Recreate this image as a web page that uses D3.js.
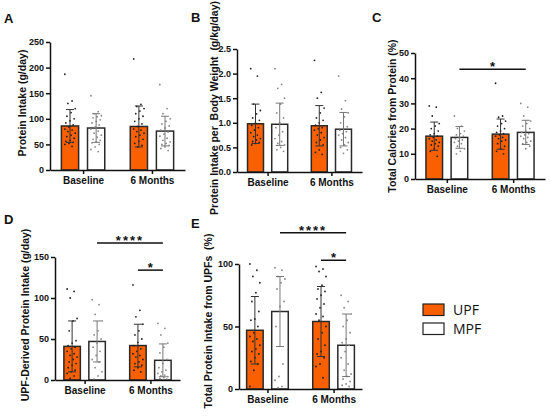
<!DOCTYPE html>
<html>
<head>
<meta charset="utf-8">
<script src="https://cdn.jsdelivr.net/npm/d3@7"></script>
<style>
  body { margin: 0; background: #fff; }
  svg { display: block; }
</style>
</head>
<body>
<div id="chart"></div>
<script>
const groups = ["Baseline", "6 Months"];
const series = ["UPF", "MPF"];

// A: Protein intake (g/day)
const aUpfMean = [86, 85];
const aUpfSd = [32, 40];
const aMpfMean = [82, 76];
const aMpfSd = [28, 29];
const aUpfDots = [
  [187, 135, 130, 120, 112, 105, 100, 96, 92, 88, 84, 80, 78, 75, 72, 68, 65, 62, 58, 56, 54, 52, 50, 46],
  [217, 128, 124, 120, 115, 110, 105, 100, 95, 90, 85, 80, 78, 75, 72, 68, 65, 60, 56, 52, 48, 45]
];
const aMpfDots = [
  [145, 114, 110, 106, 104, 102, 98, 95, 92, 88, 84, 80, 76, 72, 68, 64, 60, 58, 55, 53, 50, 45, 40, 36],
  [167, 120, 110, 100, 95, 90, 86, 82, 78, 74, 70, 66, 62, 58, 55, 52, 50, 48, 45, 42, 38]
];

// B: Protein intake per body weight (g/kg/day)
const bUpfMean = [0.98, 0.94];
const bUpfSd = [0.40, 0.41];
const bMpfMean = [0.97, 0.87];
const bMpfSd = [0.43, 0.34];
const bUpfDots = [
  [2.1, 1.95, 1.38, 1.25, 1.18, 1.1, 1.05, 1.0, 0.95, 0.9, 0.85, 0.8, 0.75, 0.72, 0.68, 0.65, 0.62, 0.6, 0.58, 0.55],
  [2.27, 1.62, 1.5, 1.3, 1.2, 1.1, 1.05, 1.0, 0.95, 0.9, 0.88, 0.85, 0.8, 0.75, 0.7, 0.65, 0.6, 0.55, 0.45, 0.4, 0.36]
];
const bMpfDots = [
  [2.1, 1.78, 1.7, 1.5, 1.38, 1.2, 1.1, 1.0, 0.9, 0.82, 0.75, 0.68, 0.62, 0.58, 0.55, 0.5, 0.45, 0.42],
  [1.95, 1.45, 1.28, 1.2, 1.12, 1.0, 0.92, 0.88, 0.85, 0.82, 0.78, 0.75, 0.7, 0.65, 0.6, 0.55, 0.5, 0.45, 0.38]
];

// C: Total calories from protein (%)
const cUpfMean = [17.0, 17.8];
const cUpfSd = [5.6, 6.0];
const cMpfMean = [16.5, 18.5];
const cMpfSd = [4.3, 4.8];
const cUpfDots = [
  [29, 28.5, 25, 22, 21, 20, 19, 18, 17.5, 17, 16.5, 16, 15.5, 15, 14.5, 14, 13.5, 13, 12, 11, 9],
  [38, 25, 24.5, 23, 22, 21, 20, 19, 18.5, 18, 17.5, 17, 16.5, 16, 15.5, 15, 14, 13, 12, 11, 10]
];
const cMpfDots = [
  [25, 21, 20, 19, 18, 17.5, 17, 16.5, 16, 15.5, 15, 14.5, 14, 13, 12, 11, 10],
  [30, 28.5, 25, 23, 22, 21, 20, 19, 18.5, 18, 17.5, 17, 16.5, 16, 15, 14.5, 14, 13, 12]
];

// D: UPF-derived protein intake (g/day)
const dUpfMean = [41, 42];
const dUpfSd = [31, 26];
const dMpfMean = [47, 24];
const dMpfSd = [25, 20];
const dUpfDots = [
  [111, 108, 100, 75, 72, 60, 48, 45, 42, 40, 38, 35, 32, 30, 28, 25, 22, 20, 18, 15, 12, 10, 8, 5, 2],
  [116, 85, 77, 68, 60, 55, 50, 46, 42, 38, 35, 32, 30, 28, 25, 22, 20, 18, 15, 12, 10]
];
const dMpfDots = [
  [98, 92, 80, 72, 60, 55, 50, 45, 40, 35, 30, 25, 22, 15, 10, 5, 1],
  [69, 63, 55, 45, 40, 33, 25, 20, 15, 12, 10, 8, 6, 5, 4, 3, 2, 1, 0.5]
];

// E: Total protein intake from UPFs (%)
const eUpfMean = [47, 54];
const eUpfSd = [27, 28];
const eMpfMean = [62, 35];
const eMpfSd = [28, 25];
const eUpfDots = [
  [100, 95, 90, 85, 77, 70, 62, 56, 55, 50, 45, 42, 40, 38, 35, 32, 30, 28, 25, 22, 20, 15, 2],
  [98, 96, 94, 90, 83, 80, 78, 75, 72, 68, 65, 60, 58, 55, 50, 45, 40, 35, 30, 28, 25, 20, 18, 9]
];
const eMpfDots = [
  [97, 95, 90, 88, 85, 80, 70, 66, 50, 20, 10, 7, 2, 1],
  [75, 70, 65, 60, 55, 50, 45, 40, 37, 35, 30, 25, 20, 15, 12, 10, 8, 6, 4, 3, 2]
];

const cSig = [{ from: ["Baseline", "MPF"], to: ["6 Months", "MPF"], value: 43.6, label: "*" }];
const dSig = [
  { from: ["Baseline", "MPF"], to: ["6 Months", "MPF"], value: 167, label: "****" },
  { from: ["6 Months", "UPF"], to: ["6 Months", "MPF"], value: 134, label: "*" }
];
const eSig = [
  { from: ["Baseline", "MPF"], to: ["6 Months", "MPF"], value: 125, label: "****" },
  { from: ["6 Months", "UPF"], to: ["6 Months", "MPF"], value: 103, label: "*" }
];

const orange = "#fa5f00";
const font = "'Liberation Sans', Arial, sans-serif";

const width = 550;
const height = 417;

const svg = d3
  .select("#chart")
  .append("svg")
  .attr("width", width)
  .attr("height", height)
  .style("font-family", font);

function rows(upfMean, upfSd, upfDots, mpfMean, mpfSd, mpfDots) {
  const out = [];
  groups.forEach((g, i) => {
    out.push({ group: g, series: "UPF", mean: upfMean[i], sd: upfSd[i], dots: upfDots[i] });
    out.push({ group: g, series: "MPF", mean: mpfMean[i], sd: mpfSd[i], dots: mpfDots[i] });
  });
  return out;
}

const panels = [
  {
    letter: "A", lx: 4, ly: 23,
    x0: 50, x1: 185, y0: 170, yTop: 42, pad: 0.48,
    yMax: 250, ticks: [0, 50, 100, 150, 200, 250], fmt: d3.format("d"),
    label: "Protein Intake (g/day)", labX: 22, labY: 103,
    data: rows(aUpfMean, aUpfSd, aUpfDots, aMpfMean, aMpfSd, aMpfDots), sig: []
  },
  {
    letter: "B", lx: 191, ly: 22,
    x0: 237, x1: 362, y0: 172, yTop: 49, pad: 0.48,
    yMax: 2.5, ticks: [0, 0.5, 1, 1.5, 2, 2.5], fmt: d3.format(".1f"),
    label: "Protein Intake per  Body Weight  (g/kg/day)", labX: 214, labY: 108,
    data: rows(bUpfMean, bUpfSd, bUpfDots, bMpfMean, bMpfSd, bMpfDots), sig: []
  },
  {
    letter: "C", lx: 372, ly: 22,
    x0: 415, x1: 545, y0: 179, yTop: 53, pad: 0.48,
    yMax: 50, ticks: [0, 10, 20, 30, 40, 50], fmt: d3.format("d"),
    label: "Total Calories from Protein (%)", labX: 392, labY: 116,
    data: rows(cUpfMean, cUpfSd, cUpfDots, cMpfMean, cMpfSd, cMpfDots), sig: cSig
  },
  {
    letter: "D", lx: 4, ly: 224,
    x0: 55, x1: 180, y0: 380, yTop: 257, pad: 0.45,
    yMax: 150, ticks: [0, 50, 100, 150], fmt: d3.format("d"),
    label: "UPF-Derived Protein Intake (g/day)", labX: 25, labY: 315,
    data: rows(dUpfMean, dUpfSd, dUpfDots, dMpfMean, dMpfSd, dMpfDots), sig: dSig
  },
  {
    letter: "E", lx: 191, ly: 228,
    x0: 239, x1: 362, y0: 389, yTop: 264, pad: 0.43,
    yMax: 100, ticks: [0, 50, 100], fmt: d3.format("d"),
    label: "Total Protein Intake from UPFs  (%)", labX: 208, labY: 321,
    data: rows(eUpfMean, eUpfSd, eUpfDots, eMpfMean, eMpfSd, eMpfDots), sig: eSig
  }
];

// fixed horizontal spread for the scatter dots
const jitter = (i) => (((i * 7) % 11) - 5) / 5;

panels.forEach((p) => {
  const y = d3.scaleLinear().domain([0, p.yMax]).range([p.y0, p.yTop]);
  const x = d3.scalePoint().domain(groups).range([p.x0, p.x1]).padding(p.pad);
  const half = x.step() * 0.315;
  const xs = d3.scaleBand().domain(series).range([-half, half]).paddingInner(0.34);
  const cx = (g, s) => x(g) + xs(s) + xs.bandwidth() / 2;

  const g = svg.append("g");

  // bars
  g.selectAll("rect.bar")
    .data(p.data)
    .join("rect")
    .attr("class", "bar")
    .attr("x", (d) => x(d.group) + xs(d.series))
    .attr("y", (d) => y(d.mean))
    .attr("width", xs.bandwidth())
    .attr("height", (d) => p.y0 - y(d.mean))
    .attr("fill", (d) => (d.series === "UPF" ? orange : "#fff"))
    .attr("stroke", "#2a2a2a")
    .attr("stroke-width", 1.5);

  // dots
  const dotData = p.data.flatMap((d) =>
    d.dots.map((v, i) => ({ group: d.group, series: d.series, v, i }))
  );
  g.selectAll("circle")
    .data(dotData)
    .join("circle")
    .attr("cx", (d) => cx(d.group, d.series) + jitter(d.i) * xs.bandwidth() * 0.3)
    .attr("cy", (d) => y(d.v))
    .attr("r", 0.9)
    .attr("fill", (d) => (d.series === "UPF" ? "#222" : "#888"));

  // error bars
  const err = g.selectAll("g.err").data(p.data).join("g").attr("class", "err")
    .attr("stroke", (d) => (d.series === "UPF" ? "#333" : "#777"))
    .attr("stroke-width", 1);
  err.append("line")
    .attr("x1", (d) => cx(d.group, d.series))
    .attr("x2", (d) => cx(d.group, d.series))
    .attr("y1", (d) => y(Math.max(0, d.mean - d.sd)))
    .attr("y2", (d) => y(d.mean + d.sd));
  [1, -1].forEach((sgn) => {
    err.append("line")
      .attr("x1", (d) => cx(d.group, d.series) - 4)
      .attr("x2", (d) => cx(d.group, d.series) + 4)
      .attr("y1", (d) => y(Math.max(0, d.mean + sgn * d.sd)))
      .attr("y2", (d) => y(Math.max(0, d.mean + sgn * d.sd)));
  });

  // axes
  const ya = g.append("g")
    .attr("transform", `translate(${p.x0},0)`)
    .call(d3.axisLeft(y).tickValues(p.ticks).tickFormat(p.fmt).tickSize(4).tickSizeOuter(0).tickPadding(2));
  ya.selectAll("text").attr("font-size", 9).attr("font-weight", "bold").attr("fill", "#111");

  const xa = g.append("g")
    .attr("transform", `translate(0,${p.y0})`)
    .call(d3.axisBottom(x).tickSize(4).tickSizeOuter(0).tickPadding(3));
  xa.selectAll("text").attr("font-size", 10).attr("font-weight", "bold").attr("fill", "#111");

  [ya, xa].forEach((a) => {
    a.select(".domain").attr("stroke", "#111").attr("stroke-width", 1.5);
    a.selectAll(".tick line").attr("stroke", "#111").attr("stroke-width", 1.5);
    a.attr("font-family", font);
  });

  // y label
  g.append("text")
    .attr("transform", `translate(${p.labX},${p.labY}) rotate(-90)`)
    .attr("dy", "0.35em")
    .attr("text-anchor", "middle")
    .attr("font-size", 10.5)
    .attr("font-weight", "bold")
    .attr("fill", "#111")
    .style("white-space", "pre")
    .text(p.label);

  // panel letter
  g.append("text")
    .attr("x", p.lx)
    .attr("y", p.ly)
    .attr("font-size", 13)
    .attr("font-weight", "bold")
    .attr("fill", "#111")
    .text(p.letter);

  // significance brackets
  const sg = g.selectAll("g.sig").data(p.sig).join("g").attr("class", "sig");
  sg.append("line")
    .attr("x1", (d) => cx(...d.from))
    .attr("x2", (d) => cx(...d.to))
    .attr("y1", (d) => y(d.value))
    .attr("y2", (d) => y(d.value))
    .attr("stroke", "#111")
    .attr("stroke-width", 1.5);
  sg.append("text")
    .attr("x", (d) => (cx(...d.from) + cx(...d.to)) / 2)
    .attr("y", (d) => y(d.value) + 2)
    .attr("text-anchor", "middle")
    .attr("font-size", 13)
    .attr("font-weight", "bold")
    .attr("letter-spacing", (d) => (d.label.length > 1 ? 2 : 0))
    .attr("fill", "#111")
    .text((d) => d.label);
});

// legend
const legend = svg.append("g").attr("transform", "translate(423,304)");
series.forEach((s, i) => {
  legend.append("rect")
    .attr("x", 0)
    .attr("y", i * 19)
    .attr("width", 21)
    .attr("height", 11.5)
    .attr("fill", s === "UPF" ? orange : "#fff")
    .attr("stroke", "#222")
    .attr("stroke-width", 1.2);
  legend.append("text")
    .attr("x", 30)
    .attr("y", i * 19 + 11)
    .attr("font-family", "'Open Sans', sans-serif")
    .attr("font-size", 14)
    .attr("fill", "#111")
    .text(s);
});
</script>
</body>
</html>
